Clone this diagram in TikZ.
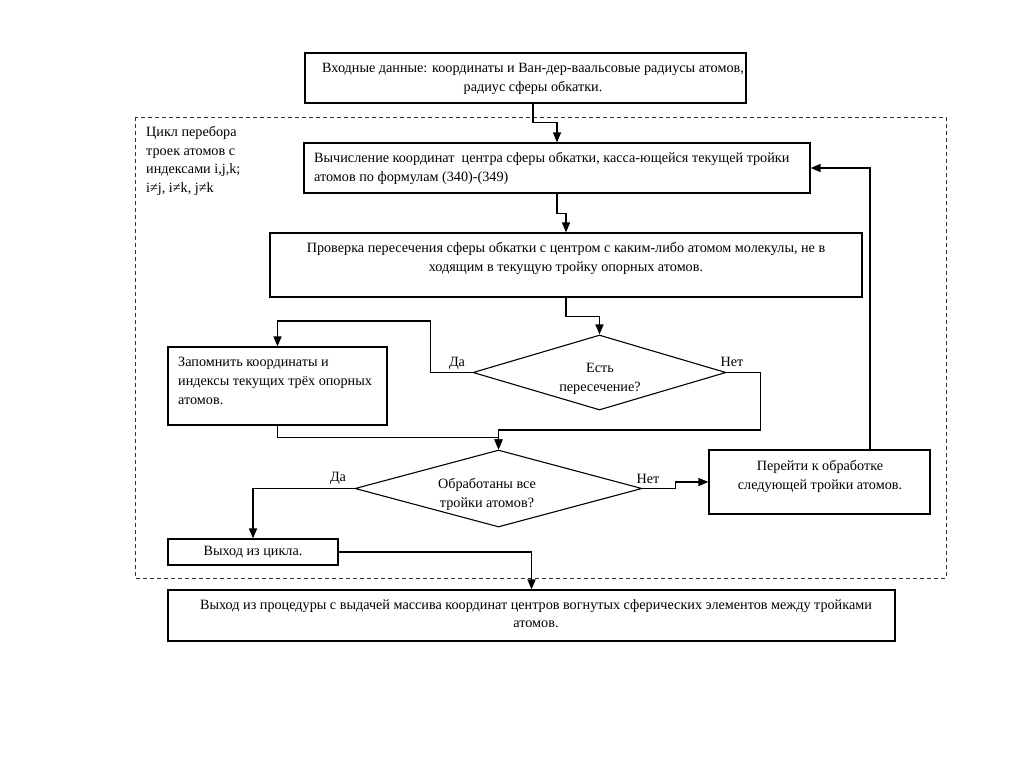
\documentclass[tikz,border=0pt]{standalone}
\usepackage{fontspec}
\setmainfont{Liberation Serif}
\usetikzlibrary{shapes.geometric,arrows.meta}
\begin{document}
\begin{tikzpicture}[x=1pt,y=-1pt,
  box/.style={draw=black,line width=1.2pt,rectangle,inner sep=0pt,fill=white},
  dia/.style={draw=black,line width=1.1pt,diamond,inner sep=0pt},
  txt/.style={inner sep=0pt,font=\fontsize{14.2}{18.7}\selectfont},
  lbl/.style={inner sep=0pt,font=\fontsize{14.2}{16}\selectfont},
  arr/.style={line width=1.5pt,-{Triangle[length=10pt,width=8pt]}},
  frame/.style={draw=black!80,line width=1pt,dash pattern=on 4pt off 3pt}]
\useasboundingbox (0,0) rectangle (1024,768);
% loop frame
\draw[frame] (135,117) rectangle (946,578);
\node[txt,anchor=north west,align=left] (looplbl) at (146,126) {Цикл перебора\\троек атомов с\\индексами i,j,k;\\i≠j, i≠k, j≠k};
% boxes
\node[box,minimum width=441pt,minimum height=50pt] (in) at (525.5,78) {};
\node[txt,anchor=north,align=center] (intxt) at (533,63) {Входные данные: координаты и Ван-дер-ваальсовые радиусы атомов,\\радиус сферы обкатки.};
\node[box,minimum width=506pt,minimum height=50pt] (b1) at (557,168) {};
\node[txt,anchor=north west,align=left] (b1txt) at (314,152) {Вычисление координат\ \ центра сферы обкатки, касса-ющейся текущей тройки\\атомов по формулам (340)-(349)};
\node[box,minimum width=592pt,minimum height=64pt] (b2) at (566,265) {};
\node[txt,anchor=north,align=center] (b2txt) at (566,242) {Проверка пересечения сферы обкатки с центром с каким-либо атомом молекулы, не в\\ходящим в текущую тройку опорных атомов.};
\node[dia,minimum width=253pt,minimum height=75pt] (d1) at (599.5,372.5) {};
\node[txt,anchor=north,align=center] (d1txt) at (600,363) {Есть\\пересечение?};
\node[box,minimum width=219pt,minimum height=78pt] (b3) at (277.5,386) {};
\node[txt,anchor=north west,align=left] (b3txt) at (178,357) {Запомнить координаты и\\индексы текущих трёх опорных\\атомов.};
\node[dia,minimum width=287pt,minimum height=77pt] (d2) at (498.5,488.5) {};
\node[txt,anchor=north,align=center] (d2txt) at (487,478) {Обработаны все\\тройки атомов?};
\node[box,minimum width=221pt,minimum height=64pt] (b4) at (819.5,482) {};
\node[txt,anchor=north,align=center] (b4txt) at (820,460) {Перейти к обработке\\следующей тройки атомов.};
\node[box,minimum width=170pt,minimum height=26pt] (b5) at (253,552) {};
\node[txt] (b5txt) at (253,552.5) {Выход из цикла.};
\node[box,minimum width=727pt,minimum height=51pt] (b6) at (531.5,615.5) {};
\node[txt,anchor=north,align=center] (b6txt) at (536,599) {Выход из процедуры с выдачей массива координат центров вогнутых сферических элементов между тройками\\атомов.};
% labels
\node[lbl] (da1) at (457,363) {Да};
\node[lbl] (net1) at (732,362) {Нет};
\node[lbl] (da2) at (338,478) {Да};
\node[lbl] (net2) at (648,479) {Нет};
% connectors
\draw[arr] ([xshift=7.5pt]in.south) -- ++(0,19) -| (b1.north);
\draw[arr] (b1.south) -- ++(0,20) -| (b2.north);
\draw[arr] (b2.south) -- ++(0,19) -| (d1.north);
\draw[arr] (d1.west) -- ++(-42,0) -- ++(0,-51.5) -| (b3.north);
\draw[arr] (b3.south) -- ++(0,12) -| (d2.north);
\draw[arr] (d1.east) -- ++(34,0) -- ++(0,57.5) -| (d2.north);
\draw[arr] (d2.east) -- ++(33,0) |- (b4.west);
\draw[arr] ([xshift=50.5pt]b4.north) |- (b1.east);
\draw[arr] (d2.west) -| (b5.north);
\draw[arr] (b5.east) -| (b6.north);
\end{tikzpicture}
\end{document}
